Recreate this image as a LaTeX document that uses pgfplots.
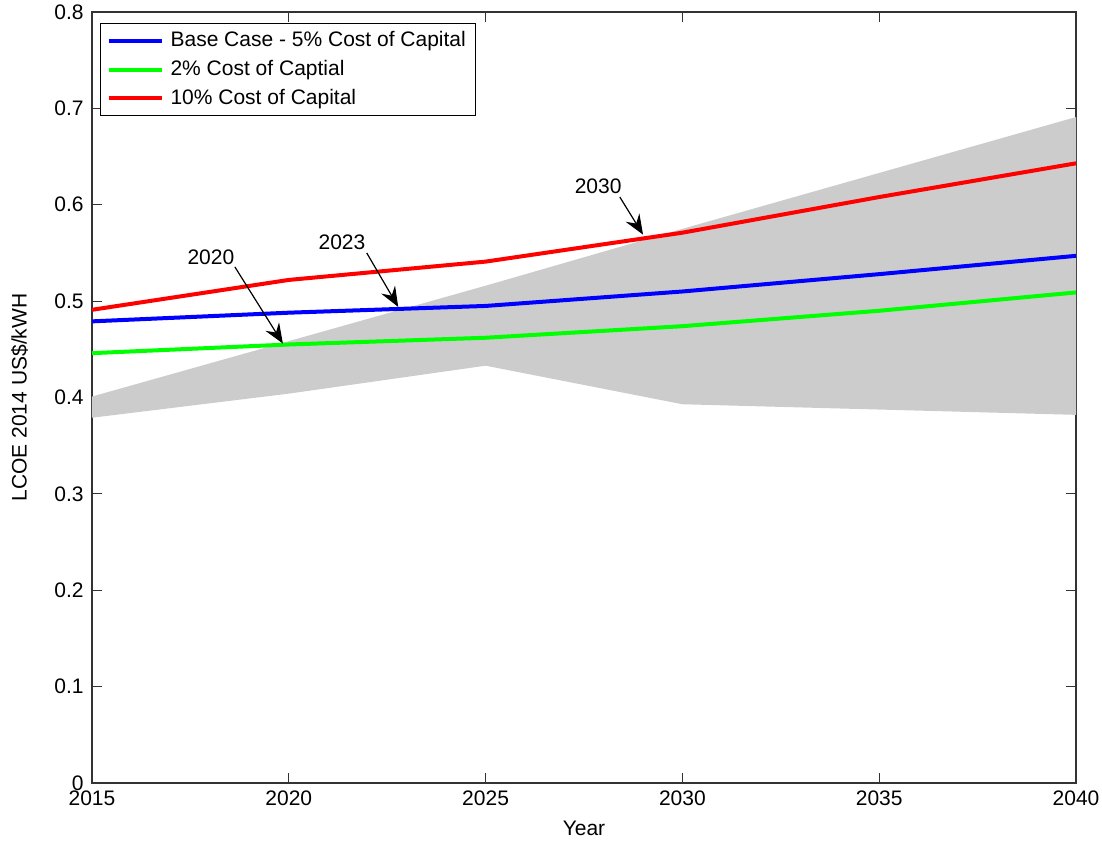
\documentclass[border=0pt]{standalone}
\usepackage{pgfplots}
\pgfplotsset{compat=1.18}
\usepackage{fontspec}
\setmainfont{Liberation Sans}
\usetikzlibrary{arrows.meta}
\definecolor{band}{RGB}{204,204,204}
\begin{document}
\fontsize{10.5}{12.6}\selectfont
\begin{tikzpicture}
\useasboundingbox (-46pt,-29.5pt) rectangle (505pt,391.5pt);
\begin{axis}[
  at={(0pt,0pt)}, anchor=south west,
  scale only axis, width=492pt, height=385.5pt,
  xmin=2015, xmax=2040, ymin=0, ymax=0.8,
  xtick={2015,2020,2025,2030,2035,2040},
  xticklabels={2015,2020,2025,2030,2035,2040},
  ytick={0,0.1,0.2,0.3,0.4,0.5,0.6,0.7,0.8},
  yticklabels={0,0.1,0.2,0.3,0.4,0.5,0.6,0.7,0.8},
  tick align=inside, major tick length=5pt,
  tick style={black!80, line width=0.6pt},
  axis line style={black!80, line width=0.75pt},
  yticklabel style={xshift=-0.5pt},
  xlabel={Year},
  ylabel={LCOE 2014 US\$/kWH},
  xlabel style={yshift=-0.5pt},
  ylabel style={yshift=6pt},
  clip=true,
  legend cell align=left,
  legend style={at={(0.0081,0.9857)}, anchor=north west, draw=black, line width=0.6pt,
    font=\fontsize{10.5}{12.6}\selectfont, inner xsep=3pt, inner ysep=2pt, row sep=1.2pt},
  legend image code/.code={\draw[#1] (0pt,0pt) -- (26.5pt,0pt); \path (28pt,0pt);},
]
\addplot[draw=none, fill=band, forget plot] coordinates {
  (2015,0.401) (2025,0.516) (2030,0.575) (2040,0.691)
  (2040,0.382) (2030,0.393) (2025,0.433) (2020,0.404) (2015,0.379)
} -- cycle;
\addplot[blue, line width=2pt] coordinates {
  (2015,0.479) (2020,0.488) (2025,0.495) (2030,0.510) (2035,0.528) (2040,0.547)};
\addlegendentry{Base Case - 5\% Cost of Capital}
\addplot[green, line width=2pt] coordinates {
  (2015,0.446) (2020,0.455) (2025,0.462) (2030,0.474) (2035,0.490) (2040,0.509)};
\addlegendentry{2\% Cost of Captial}
\addplot[red, line width=2pt] coordinates {
  (2015,0.491) (2020,0.522) (2025,0.541) (2030,0.571) (2035,0.608) (2040,0.643)};
\addlegendentry{10\% Cost of Capital}
\draw[black, line width=0.6pt, -{Stealth[length=10pt, width=8pt, inset=3.5pt]}]
  (axis cs:2018.63,0.5355) -- (axis cs:2019.85,0.456);
\draw[black, line width=0.6pt, -{Stealth[length=10pt, width=8pt, inset=3.5pt]}]
  (axis cs:2021.98,0.550) -- (axis cs:2022.78,0.494);
\draw[black, line width=0.6pt, -{Stealth[length=10pt, width=8pt, inset=3.5pt]}]
  (axis cs:2028.41,0.608) -- (axis cs:2029.0,0.569);
\node at (axis cs:2018.02,0.546) {2020};
\node at (axis cs:2021.35,0.5615) {2023};
\node at (axis cs:2027.86,0.6196) {2030};
\end{axis}
\end{tikzpicture}
\end{document}
